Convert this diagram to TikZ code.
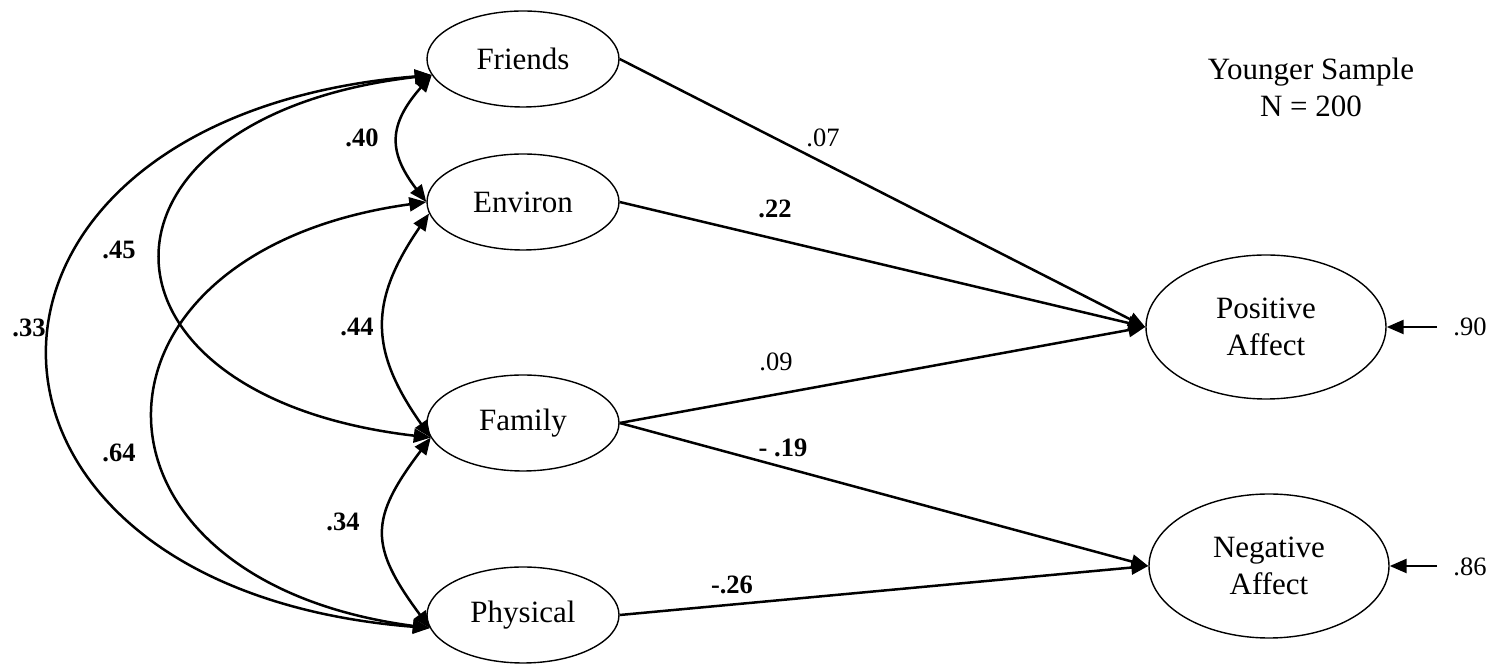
\documentclass[tikz,border=0pt]{standalone}
\usepackage{fontspec}
\setmainfont{Liberation Serif}
\usetikzlibrary{arrows.meta,shapes.geometric}
\definecolor{LineClr}{rgb}{0,0,0}

\begin{document}
\begin{tikzpicture}[x=0.5pt,y=0.5pt,
  font=\fontsize{15.5}{18.5}\selectfont,
  factor/.style={ellipse,draw=LineClr,line width=0.7pt,minimum width=96pt,minimum height=48pt,inner sep=0pt},
  outcome/.style={factor,minimum width=120pt,minimum height=72pt,align=center},
  pathline/.style={line width=1.25pt,color=LineClr,-{Triangle[length=8.5pt,width=7pt]}},
  covline/.style={line width=1.25pt,color=LineClr,{Triangle[length=8.5pt,width=7pt]}-{Triangle[length=8.5pt,width=7pt]}},
  est/.style={font=\fontsize{13.25}{16}\selectfont,inner sep=0pt},
  sig/.style={est,font=\fontsize{13.25}{16}\selectfont\bfseries}]
\useasboundingbox (0,0) rectangle (1496,664);

\node[factor] (Fr) at (523,605) {Friends};
\node[factor] (En) at (523,462) {Environ};
\node[factor] (Fa) at (523,241) {Family};
\node[factor] (Ph) at (523,49) {Physical};

\node[outcome] (Pos) at (1266,337) {Positive\\Affect};
\node[outcome] (Neg) at (1269,98) {Negative\\Affect};

\node[align=center] (title) at (1311,577) {Younger Sample\\N = 200};

\draw[pathline] (Fr.east) -- (Pos.west);
\draw[pathline] (En.east) -- (Pos.west);
\draw[pathline] (Fa.east) -- (Pos.west);
\draw[pathline] (Fa.east) -- (Neg.west);
\draw[pathline] (Ph.east) -- (Neg.west);

\coordinate (e1) at (1437,337);
\coordinate (e2) at (1437,98);
\node[est] (r1) at (1470,337) {.90};
\node[est] (r2) at (1470,97) {.86};
\draw[pathline] (e1) -- (Pos.east);
\draw[pathline] (e2) -- (Neg.east);

\draw[covline] (Fr.190) .. controls (388,539) and (388,512) .. (En.180);
\draw[covline] (En.187) .. controls (369,363) and (369,314) .. (Fa.189);
\draw[covline] (Fa.189) .. controls (369,145) and (369,118) .. (Ph.188);
\draw[covline] (Fr.190) .. controls (73,547) and (73,268) .. (Fa.189);
\draw[covline] (En.180) .. controls (64,412) and (64,84) .. (Ph.188);
\draw[covline] (Fr.190) .. controls (-77,547) and (-77,76) .. (Ph.188);

\node[sig] (c40) at (362,526) {.40};
\node[sig] (c44) at (357,337) {.44};
\node[sig] (c34) at (343,142) {.34};
\node[sig] (c45) at (119,414) {.45};
\node[sig] (c64) at (119,211) {.64};
\node[sig] (c33) at (29,336) {.33};

\node[est] (b07) at (823,526) {.07};
\node[sig] (b22) at (775,455) {.22};
\node[est] (b09) at (776,302) {.09};
\node[sig] (b19) at (783,216) {- .19};
\node[sig] (b26) at (732,79) {-.26};

\end{tikzpicture}
\end{document}
